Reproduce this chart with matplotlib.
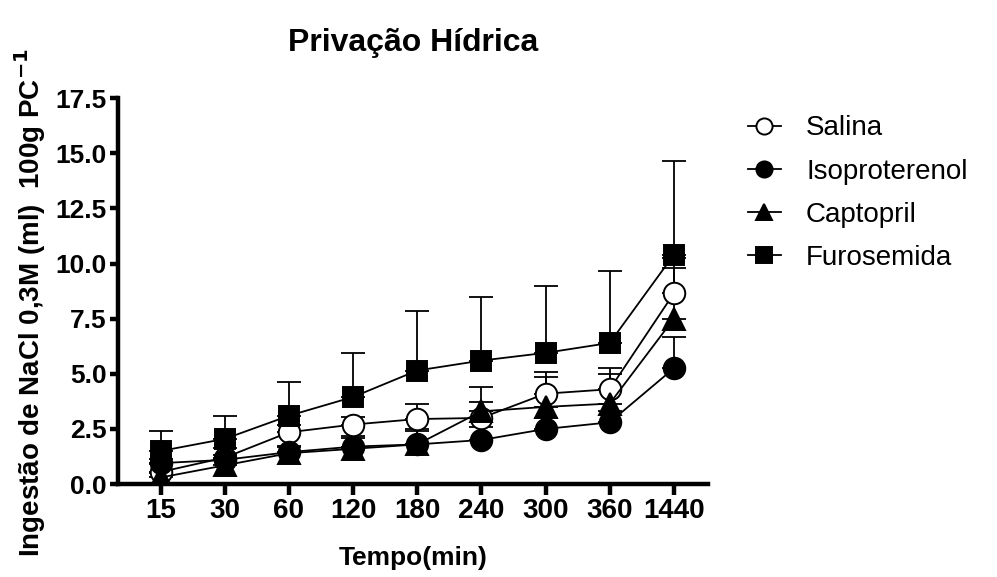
import matplotlib
matplotlib.use('Agg')
import matplotlib.pyplot as plt
import numpy as np

plt.rcParams['font.family'] = ['Liberation Sans', 'DejaVu Sans']

# Tempo (min) - eixo categórico
times = ['15', '30', '60', '120', '180', '240', '300', '360', '1440']

# Médias e erro (só para cima)
salina = [0.55, 1.2, 2.35, 2.7, 2.95, 3.0, 4.1, 4.3, 8.65]
salina_err = [0.35, 0.45, 0.35, 0.35, 0.7, 0.7, 1.0, 0.95, 1.6]
iso = [0.95, 1.1, 1.45, 1.7, 1.8, 2.0, 2.5, 2.8, 5.25]
iso_err = [0.2, 0.2, 0.3, 0.5, 0.6, 0.6, 0.5, 0.5, 1.4]
capto = [0.3, 0.85, 1.4, 1.6, 1.8, 3.3, 3.5, 3.65, 7.5]
capto_err = [0.2, 0.3, 0.3, 0.5, 0.7, 1.1, 1.35, 1.35, 2.3]
furo = [1.5, 2.05, 3.1, 3.95, 5.15, 5.6, 5.95, 6.4, 10.4]
furo_err = [0.9, 1.05, 1.55, 2.0, 2.7, 2.9, 3.05, 3.25, 4.25]

series = [
    ('Salina', salina, salina_err, 'o', 'white'),
    ('Isoproterenol', iso, iso_err, 'o', 'black'),
    ('Captopril', capto, capto_err, '^', 'black'),
    ('Furosemida', furo, furo_err, 's', 'black'),
]

fig = plt.figure(figsize=(9.97, 5.77), dpi=100)
ax = fig.add_axes([0.118, 0.161, 0.592, 0.669])

x = np.arange(len(times))
handles = []
for name, vals, errs, mk, fc in series:
    ax.errorbar(x, vals, yerr=[np.zeros(len(errs)), errs], fmt='none',
                ecolor='black', elinewidth=1.3, capsize=8.5, capthick=1.3,
                zorder=2)
    ms = 14.5 if mk == 's' else 15.5
    h, = ax.plot(x, vals, color='black', lw=1.3, marker=mk, ms=ms,
                 mfc=fc, mec='black', mew=1.4, zorder=3, label=name)
    handles.append(h)

ax.set_xlim(-0.67, 8.53)
ax.set_ylim(0, 17.5)
ax.set_xticks(x)
ax.set_xticklabels(times)
yt = np.arange(0, 17.6, 2.5)
ax.set_yticks(yt)
ax.set_yticklabels([f'{v:.1f}' for v in yt])

for s in ['top', 'right']:
    ax.spines[s].set_visible(False)
for s in ['left', 'bottom']:
    ax.spines[s].set_linewidth(3.2)
ax.tick_params(axis='both', width=3.2, pad=2)
ax.tick_params(axis='x', length=8, labelsize=20)
ax.tick_params(axis='y', length=6, labelsize=19)
for lbl in ax.get_xticklabels() + ax.get_yticklabels():
    lbl.set_fontweight('bold')

ax.set_xlabel('Tempo(min)', fontsize=19, fontweight='bold', labelpad=16)
ax.set_ylabel('Ingestão de NaCl 0,3M (ml)  100g PC$^{\\mathbf{-1}}$',
              fontsize=20, fontweight='bold')
ax.yaxis.set_label_coords(-0.118, 0.47)
ax.set_title('Privação Hídrica', fontsize=23, fontweight='bold', pad=34)

leg = ax.legend(handles=handles, loc='upper left',
                bbox_to_anchor=(0.75, 0.80), bbox_transform=fig.transFigure,
                frameon=False, fontsize=20, handlelength=1.2,
                labelspacing=0.62, handletextpad=0.9, markerscale=0.75,
                borderpad=0, borderaxespad=0)

fig.savefig('out.png', dpi=100)
